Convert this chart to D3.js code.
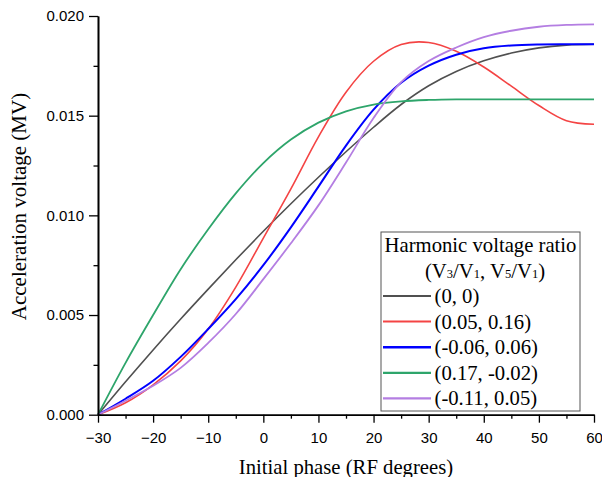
<!DOCTYPE html>
<html lang="en">
<head>
  <meta charset="UTF-8">
  <title>Acceleration voltage vs initial phase</title>
  <script src="https://d3js.org/d3.v7.min.js"></script>
  <style>
    body { margin: 0; background: #fff; }
    .tick text { font-family: "Liberation Sans", Arial, sans-serif; font-size: 15px; fill: #000; }
    .title { font-family: "Liberation Serif", "Times New Roman", serif; fill: #000; }
  </style>
</head>
<body>
  <div id="chart"></div>

  <script>
    // initial phase (RF degrees)
    const phase = [-30, -25, -20, -15, -10, -5, 0, 5, 10, 15, 20, 25, 30, 35, 40, 45, 50, 55, 60];

    // acceleration voltage (MV) for each harmonic ratio (V3/V1, V5/V1)
    const v_0_0 =       [0, 0.00165, 0.00325, 0.0048, 0.0063, 0.00777, 0.0092, 0.01058, 0.01191, 0.01319, 0.01442, 0.01556, 0.0165, 0.01722, 0.01775, 0.01814, 0.0184, 0.01854, 0.01858];
    const v_005_016 =   [0, 0.0006, 0.0015, 0.0027, 0.0043, 0.0064, 0.00886, 0.01133, 0.01394, 0.01618, 0.01773, 0.01857, 0.01867, 0.01823, 0.01744, 0.01648, 0.01551, 0.01475, 0.01457];
    const v_m006_006 =  [0, 0.0008, 0.0017, 0.0029, 0.0043, 0.0058, 0.0075, 0.0094, 0.01144, 0.0135, 0.0153, 0.01665, 0.01751, 0.01806, 0.01838, 0.01852, 0.01857, 0.01858, 0.01858];
    const v_017_m002 =  [0, 0.0026, 0.005, 0.0073, 0.0093, 0.0111, 0.01262, 0.0138, 0.01465, 0.01522, 0.01556, 0.01572, 0.01579, 0.01582, 0.01582, 0.01582, 0.01582, 0.01582, 0.01582];
    const v_m011_005 =  [0, 0.0007, 0.00145, 0.00235, 0.0036, 0.00505, 0.0068, 0.0086, 0.0105, 0.01265, 0.01488, 0.01668, 0.01774, 0.01842, 0.01894, 0.01926, 0.01946, 0.01955, 0.01958];

    const labels = ["(0, 0)", "(0.05, 0.16)", "(-0.06, 0.06)", "(0.17, -0.02)", "(-0.11, 0.05)"];
    const colors = ["#505050", "#f44444", "#0000ff", "#2ea56b", "#b47ee2"];
    const widths = [1.6, 1.6, 2, 1.8, 1.8];
    const seriesValues = [v_0_0, v_005_016, v_m006_006, v_017_m002, v_m011_005];

    const xTicks = [-30, -20, -10, 0, 10, 20, 30, 40, 50, 60];
    const xMinor = [-25, -15, -5, 5, 15, 25, 35, 45, 55];
    const yTicks = [0, 0.005, 0.010, 0.015, 0.020];
    const yMinor = [0.0025, 0.0075, 0.0125, 0.0175];

    const W = 602, H = 477;
    const margin = { top: 16, right: 8, bottom: 62.3, left: 98 };
    const width = W - margin.left - margin.right;
    const height = H - margin.top - margin.bottom;

    const svg = d3.select("#chart").append("svg")
      .attr("width", W)
      .attr("height", H);

    const g = svg.append("g")
      .attr("transform", "translate(" + margin.left + "," + margin.top + ")");

    const x = d3.scaleLinear().domain([-30, 60]).range([0, width]);
    const y = d3.scaleLinear().domain([0, 0.020]).range([height, 0]);

    // curves
    const line = d3.line()
      .x((d, i) => x(phase[i]))
      .y(d => y(d))
      .curve(d3.curveCatmullRom.alpha(0.5));

    seriesValues.forEach((vals, k) => {
      g.append("path")
        .datum(vals)
        .attr("fill", "none")
        .attr("stroke", colors[k])
        .attr("stroke-width", widths[k])
        .attr("d", line);
    });

    // axes
    g.append("g")
      .attr("transform", "translate(0," + height + ")")
      .call(d3.axisBottom(x).tickValues(xTicks).tickSize(8).tickPadding(10).tickSizeOuter(0));
    g.append("g")
      .attr("transform", "translate(0," + height + ")")
      .call(d3.axisBottom(x).tickValues(xMinor).tickSize(4).tickFormat("").tickSizeOuter(0));

    g.append("g")
      .call(d3.axisLeft(y).tickValues(yTicks).tickFormat(d3.format(".3f")).tickSize(9).tickPadding(5).tickSizeOuter(0));
    g.append("g")
      .call(d3.axisLeft(y).tickValues(yMinor).tickSize(4.5).tickFormat("").tickSizeOuter(0));

    g.selectAll(".domain").attr("stroke", "#000").attr("stroke-width", 1.6);
    g.selectAll(".tick line").attr("stroke", "#000").attr("stroke-width", 1.3);

    // axis titles
    svg.append("text")
      .attr("class", "title")
      .attr("x", margin.left + width / 2)
      .attr("y", 474)
      .attr("text-anchor", "middle")
      .style("font-size", "20.7px")
      .text("Initial phase (RF degrees)");

    svg.append("text")
      .attr("class", "title")
      .attr("transform", "translate(26,206.5) rotate(-90)")
      .attr("text-anchor", "middle")
      .style("font-size", "21px")
      .text("Acceleration voltage (MV)");

    // legend
    const legend = svg.append("g").attr("transform", "translate(381,232)");
    legend.append("rect")
      .attr("width", 199)
      .attr("height", 179)
      .attr("fill", "#fff")
      .attr("stroke", "#555")
      .attr("stroke-width", 1);

    legend.append("text")
      .attr("class", "title")
      .attr("x", 99.5)
      .attr("y", 20)
      .attr("text-anchor", "middle")
      .style("font-size", "20.7px")
      .text("Harmonic voltage ratio");

    const sub = legend.append("text")
      .attr("class", "title")
      .attr("x", 104)
      .attr("y", 45.5)
      .attr("text-anchor", "middle")
      .style("font-size", "20.7px");
    [["(V", null], ["3", "s"], ["/V", null], ["1", "s"], [", V", null], ["5", "s"], ["/V", null], ["1", "s"], [")", null]]
      .forEach(p => {
        const t = sub.append("tspan").text(p[0]);
        if (p[1]) t.style("font-size", "12.5px");
      });

    labels.forEach((lab, k) => {
      const row = legend.append("g").attr("transform", "translate(0," + (64 + k * 25.6) + ")");
      row.append("line")
        .attr("x1", 2).attr("x2", 50)
        .attr("stroke", colors[k])
        .attr("stroke-width", widths[k] + 0.4);
      row.append("text")
        .attr("class", "title")
        .attr("x", 53.5)
        .attr("y", 7)
        .style("font-size", "20.7px")
        .text(lab);
    });
  </script>
</body>
</html>
